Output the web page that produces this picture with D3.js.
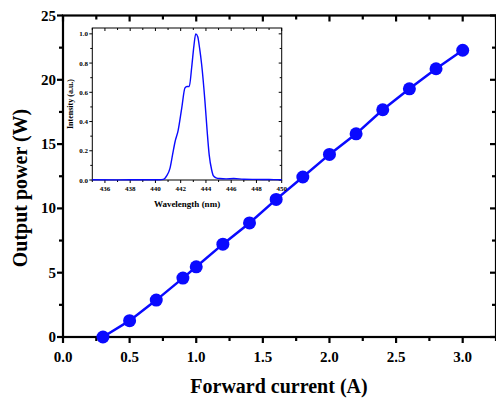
<!DOCTYPE html>
<html>
<head>
<meta charset="utf-8">
<script src="https://cdn.jsdelivr.net/npm/d3@7"></script>
<style>
  body { margin: 0; background: #fff; }
  text { font-family: "Liberation Serif", "Times New Roman", serif; font-weight: bold; }
</style>
</head>
<body>
<script>
// main L-I data
var current = [0.3, 0.5, 0.7, 0.9, 1.0, 1.2, 1.4, 1.6, 1.8, 2.0, 2.2, 2.4, 2.6, 2.8, 3.0];
var power   = [0.0, 1.27, 2.87, 4.58, 5.46, 7.22, 8.87, 10.7, 12.44, 14.2, 15.8, 17.67, 19.3, 20.86, 22.3];
var xTicks = [0, 0.5, 1.0, 1.5, 2.0, 2.5, 3.0];
var yTicks = [0, 5, 10, 15, 20, 25];

// inset spectrum
var wavelength = [435, 437, 439, 440.3, 440.62, 440.9, 441.15, 441.35, 441.55, 441.8, 442.08, 442.34, 442.5, 442.68, 442.87, 443.05, 443.19, 443.35, 443.5, 443.66, 443.92, 444.1, 444.26, 444.45, 444.58, 444.8, 445.1, 445.6, 446.2, 447, 448, 449, 450];
var intensity  = [0.002, 0.001, 0.002, 0.002, 0.004, 0.03, 0.08, 0.17, 0.26, 0.34, 0.49, 0.63, 0.64, 0.64, 0.77, 0.92, 1.0, 0.98, 0.9, 0.79, 0.54, 0.33, 0.17, 0.07, 0.03, 0.015, 0.01, 0.008, 0.01, 0.005, 0.004, 0.003, 0.002];
var wTicks = [436, 438, 440, 442, 444, 446, 448, 450];
var iTicks = [0.0, 0.2, 0.4, 0.6, 0.8, 1.0];

var W = 496, H = 398;
var blue = "#0a0aff";

var svg = d3.select("body").append("svg").attr("width", W).attr("height", H);

var m = {l: 63, r: 496, t: 15.5, b: 337};
var x = d3.scaleLinear().domain([0, 3.25]).range([m.l, m.r]);
var y = d3.scaleLinear().domain([0, 25]).range([m.b, m.t]);

function frame(g, sx, sy, major, minor, len, minLen, sw) {
  var x0 = sx.range()[0], x1 = sx.range()[1], y0 = sy.range()[0], y1 = sy.range()[1];
  // bottom (outward) and top (inward)
  minor.x.forEach(function(v) {
    var l = major.x.indexOf(v) >= 0 ? len : minLen;
    g.append("line").attr("x1", sx(v)).attr("x2", sx(v)).attr("y1", y0).attr("y2", y0 + l).attr("stroke", "#000").attr("stroke-width", sw);
    g.append("line").attr("x1", sx(v)).attr("x2", sx(v)).attr("y1", y1).attr("y2", y1 + l).attr("stroke", "#000").attr("stroke-width", sw);
  });
  minor.y.forEach(function(v) {
    var l = major.y.indexOf(v) >= 0 ? len : minLen;
    g.append("line").attr("x1", x0 - l).attr("x2", x0).attr("y1", sy(v)).attr("y2", sy(v)).attr("stroke", "#000").attr("stroke-width", sw);
    g.append("line").attr("x1", x1 - l).attr("x2", x1).attr("y1", sy(v)).attr("y2", sy(v)).attr("stroke", "#000").attr("stroke-width", sw);
  });
  g.append("rect").attr("x", x0).attr("y", y1).attr("width", x1 - x0).attr("height", y0 - y1)
    .attr("fill", "none").attr("stroke", "#000").attr("stroke-width", sw);
}

var main = svg.append("g");
frame(main, x, y,
  {x: xTicks, y: yTicks},
  {x: d3.range(0, 3.26, 0.25).map(function(d){ return +d.toFixed(2); }), y: d3.range(0, 25.1, 2.5)},
  6, 4, 2.2);

main.selectAll(".xl").data(xTicks).enter().append("text")
  .attr("x", function(d){ return x(d); }).attr("y", 362)
  .attr("text-anchor", "middle").attr("font-size", 15).text(function(d){ return d.toFixed(1); });
main.selectAll(".yl").data(yTicks).enter().append("text")
  .attr("x", 56).attr("y", function(d){ return y(d) + 5; })
  .attr("text-anchor", "end").attr("font-size", 15).text(function(d){ return d; });

main.append("text").attr("x", 279).attr("y", 393).attr("text-anchor", "middle")
  .attr("font-size", 20).text("Forward current (A)");
main.append("text").attr("transform", "translate(27,188) rotate(-90)").attr("text-anchor", "middle")
  .attr("font-size", 20).text("Output power (W)");

var line = d3.line().x(function(d){ return x(d[0]); }).y(function(d){ return y(d[1]); });
var pts = d3.zip(current, power);
main.append("path").datum(pts).attr("d", line).attr("fill", "none").attr("stroke", blue).attr("stroke-width", 2.5);
main.selectAll("circle").data(pts).enter().append("circle")
  .attr("cx", function(d){ return x(d[0]); }).attr("cy", function(d){ return y(d[1]); })
  .attr("r", 6.5).attr("fill", blue);

// inset
var ix = d3.scaleLinear().domain([435, 450]).range([92.3, 281.7]);
var iy = d3.scaleLinear().domain([0, 1.04]).range([180, 28]);
var ins = svg.append("g");
ins.append("rect").attr("x", 92.3).attr("y", 28).attr("width", 189.4).attr("height", 152).attr("fill", "#fff");
frame(ins, ix, iy,
  {x: wTicks, y: iTicks},
  {x: d3.range(435, 451, 1), y: d3.range(0, 10.5, 1).map(function(d){ return +(d / 10).toFixed(1); })},
  3, 2, 1);
ins.append("path").datum(d3.zip(wavelength, intensity))
  .attr("d", d3.line().curve(d3.curveMonotoneX).x(function(d){ return ix(d[0]); }).y(function(d){ return iy(d[1]); }))
  .attr("fill", "none").attr("stroke", blue).attr("stroke-width", 1.4);
ins.selectAll(".wl").data(wTicks).enter().append("text")
  .attr("x", function(d){ return ix(d); }).attr("y", 191)
  .attr("text-anchor", "middle").attr("font-size", 7).text(function(d){ return d; });
ins.selectAll(".il").data(iTicks).enter().append("text")
  .attr("x", 88).attr("y", function(d){ return iy(d) + 2.5; })
  .attr("text-anchor", "end").attr("font-size", 7).text(function(d){ return d.toFixed(1); });
ins.append("text").attr("x", 187).attr("y", 207).attr("text-anchor", "middle")
  .attr("font-size", 9).text("Wavelength (nm)");
ins.append("text").attr("transform", "translate(73,104) rotate(-90)").attr("text-anchor", "middle")
  .attr("font-size", 8).text("Intensity (a.u.)");
</script>
</body>
</html>
